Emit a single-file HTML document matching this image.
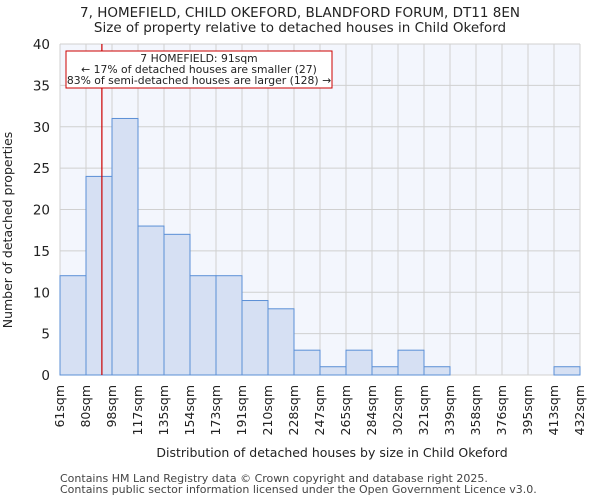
<!DOCTYPE html>
<html><head><meta charset="utf-8"><style>
body{margin:0;background:#fff;font-family:"DejaVu Sans","Liberation Sans",sans-serif;}
</style></head><body>
<svg id="c" width="600" height="500" xmlns="http://www.w3.org/2000/svg" font-family="DejaVu Sans, Liberation Sans, sans-serif">
<text x="300" y="17" text-anchor="middle" font-size="13.5" fill="#222">7, HOMEFIELD, CHILD OKEFORD, BLANDFORD FORUM, DT11 8EN</text>
<text x="300" y="32" text-anchor="middle" font-size="13.5" fill="#222">Size of property relative to detached houses in Child Okeford</text>
<rect x="60" y="44" width="520" height="331" fill="#f3f6fd"/>
<g id="grid"></g><g id="bars"></g><g id="axes"></g>
<text x="332" y="457" text-anchor="middle" font-size="12.5" fill="#222">Distribution of detached houses by size in Child Okeford</text>
<text transform="translate(12,230) rotate(-90)" text-anchor="middle" font-size="12.5" fill="#222">Number of detached properties</text>
<text x="60" y="482" font-size="11" fill="#444">Contains HM Land Registry data © Crown copyright and database right 2025.</text>
<text x="60" y="493" font-size="11" fill="#444">Contains public sector information licensed under the Open Government Licence v3.0.</text>
</svg>
<script>
const categories=["61sqm","80sqm","98sqm","117sqm","135sqm","154sqm","173sqm","191sqm","210sqm","228sqm","247sqm","265sqm","284sqm","302sqm","321sqm","339sqm","358sqm","376sqm","395sqm","413sqm","432sqm"];
const binEdges=[61,80,98,117,135,154,173,191,210,228,247,265,284,302,321,339,358,376,395,413,432];
const counts=[12,24,31,18,17,12,12,9,8,3,1,3,1,3,1,0,0,0,0,1];
const yTicks=[0,5,10,15,20,25,30,35,40];
const marker=91;
const NS="http://www.w3.org/2000/svg";
const L=60,R=580,T=44,B=375,yMax=40;
const nb=counts.length;
function xi(i){return L+(R-L)*i/nb;}
function y(v){return B-(B-T)*v/yMax;}
function xv(v){let i=0;while(i<nb-1&&v>binEdges[i+1])i++;return xi(i)+(v-binEdges[i])/(binEdges[i+1]-binEdges[i])*(xi(i+1)-xi(i));}
function mk(tag,attrs,parent){const e=document.createElementNS(NS,tag);for(const k in attrs)e.setAttribute(k,attrs[k]);parent.appendChild(e);return e;}
const grid=document.getElementById('grid'),bars=document.getElementById('bars'),axes=document.getElementById('axes');
yTicks.forEach(t=>{
 const g=mk('line',{x1:L,x2:R,y1:y(t),y2:y(t),stroke:'#d0d0d0','stroke-width':1},grid);
 
 
 const tx=mk('text',{x:L-10,y:y(t)+5,'text-anchor':'end','font-size':13.5,fill:'#222'},axes);
 tx.textContent=t;
 
 
});
categories.forEach((c,i)=>{
 const g=mk('line',{x1:xi(i),x2:xi(i),y1:T,y2:B,stroke:'#d0d0d0','stroke-width':1},grid);
 
 
 const tx=mk('text',{transform:`translate(${xi(i)+4},${B+10}) rotate(-90)`,'text-anchor':'end','font-size':12.5,fill:'#222'},axes);
 tx.textContent=c;
 
 
});
counts.forEach((v,i)=>{
 if(v<=0)return;
 const r=mk('rect',{x:xi(i),y:y(v),width:xi(i+1)-xi(i),height:B-y(v),fill:'#d6e0f3',stroke:'#5b8fd6','stroke-width':1},bars);
 
 
});
const ml=mk('line',{x1:xv(marker),x2:xv(marker),y1:T,y2:B,stroke:'#cc0000','stroke-width':1.2},axes);


const box=mk('rect',{x:66,y:51,width:266,height:37,fill:'#fff',stroke:'#cc0000','stroke-width':1},axes);


["7 HOMEFIELD: 91sqm","← 17% of detached houses are smaller (27)","83% of semi-detached houses are larger (128) →"].forEach((s,i)=>{
 const t=mk('text',{x:199,y:62+i*11,'text-anchor':'middle','font-size':10.8,fill:'#222'},axes);
 t.textContent=s;
 
 
});
</script>
</body></html>
